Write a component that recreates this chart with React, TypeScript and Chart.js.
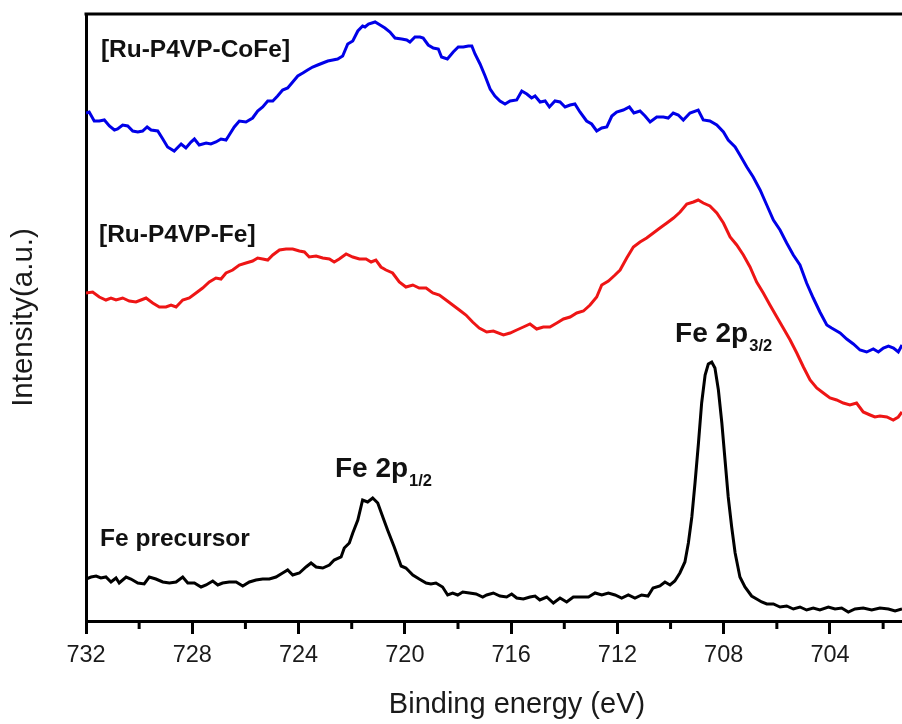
import React, { useEffect, useRef } from "react";
import { Chart, registerables } from "chart.js";

Chart.register(...registerables);

const FONT = '"Liberation Sans", Arial, Helvetica, sans-serif';

// Binding energy range (eV) and intensity range (a.u.)
const X_MIN = 701.29;
const X_MAX = 732;
const Y_MIN = 0;
const Y_MAX = 607;

const seriesNames = ["[Ru-P4VP-CoFe]", "[Ru-P4VP-Fe]", "Fe precursor"];
const xTitle = "Binding energy (eV)";
const yTitle = "Intensity(a.u.)";

// [binding energy (eV), intensity (a.u.)]
const coFeSpectrum: number[][] = [
  [732.0, 508], [731.88, 509], [731.69, 500], [731.5, 500], [731.31, 501], [731.12, 495], [730.93, 491], [730.81, 492],
  [730.62, 496], [730.43, 495], [730.24, 490], [730.05, 489], [729.87, 490], [729.7, 494], [729.55, 491], [729.3, 490],
  [729.11, 482], [728.93, 474], [728.68, 470], [728.42, 477], [728.24, 473], [728.05, 479], [727.92, 482], [727.74, 476],
  [727.48, 478], [727.3, 477], [727.11, 479], [726.92, 482], [726.73, 481], [726.61, 486], [726.42, 494], [726.23, 500],
  [725.98, 499], [725.73, 503], [725.54, 510], [725.35, 514], [725.16, 520], [724.97, 520], [724.79, 525], [724.6, 531],
  [724.41, 533], [724.22, 539], [724.03, 545], [723.84, 548], [723.66, 551], [723.47, 554], [723.28, 556], [723.09, 558],
  [722.9, 560], [722.71, 561], [722.53, 562], [722.34, 565], [722.15, 577], [721.96, 580], [721.77, 590], [721.59, 595],
  [721.5, 594], [721.37, 597], [721.12, 599], [720.93, 596], [720.75, 593], [720.56, 589], [720.37, 583], [720.12, 582],
  [719.93, 581], [719.81, 579], [719.62, 584], [719.43, 584], [719.31, 583], [719.12, 576], [718.93, 573], [718.74, 572],
  [718.62, 564], [718.4, 562], [718.18, 569], [717.99, 574], [717.8, 574], [717.61, 575], [717.48, 575], [717.36, 567],
  [717.17, 557], [716.98, 545], [716.79, 532], [716.61, 525], [716.42, 520], [716.23, 517], [716.04, 520], [715.79, 521],
  [715.6, 530], [715.41, 527], [715.23, 523], [715.1, 525], [714.91, 519], [714.72, 520], [714.56, 514], [714.35, 520],
  [714.16, 519], [713.97, 514], [713.78, 516], [713.6, 517], [713.41, 509], [713.16, 500], [712.97, 497], [712.78, 490],
  [712.59, 493], [712.4, 494], [712.21, 505], [712.03, 509], [711.78, 511], [711.55, 514], [711.38, 508], [711.15, 510],
  [710.96, 505], [710.77, 499], [710.52, 504], [710.27, 504], [710.09, 503], [709.9, 508], [709.71, 506], [709.52, 501],
  [709.27, 508], [708.96, 511], [708.77, 501], [708.52, 500], [708.26, 496], [708.01, 489], [707.83, 481], [707.57, 474],
  [707.39, 466], [707.13, 454], [706.89, 444], [706.63, 431], [706.38, 416], [706.13, 401], [705.88, 391], [705.63, 378],
  [705.38, 366], [705.13, 356], [704.88, 338], [704.63, 323], [704.38, 309], [704.12, 296], [703.94, 293], [703.62, 288],
  [703.37, 282], [703.12, 277], [702.87, 271], [702.62, 269], [702.37, 272], [702.18, 269], [701.99, 273], [701.8, 275],
  [701.61, 273], [701.43, 269], [701.29, 276],
];

const feSpectrum: number[][] = [
  [732.0, 328], [731.75, 329], [731.5, 324], [731.25, 321], [731.06, 323], [730.87, 321], [730.62, 323], [730.37, 320],
  [730.12, 319], [729.93, 321], [729.74, 323], [729.49, 318], [729.24, 314], [728.99, 314], [728.8, 316], [728.61, 314],
  [728.36, 321], [728.11, 323], [727.86, 328], [727.61, 333], [727.36, 339], [727.11, 343], [726.92, 342], [726.73, 348],
  [726.48, 351], [726.23, 356], [725.98, 358], [725.73, 360], [725.54, 363], [725.35, 362], [725.16, 361], [724.97, 366],
  [724.72, 371], [724.47, 372], [724.22, 372], [723.97, 370], [723.78, 369], [723.6, 364], [723.34, 365], [723.09, 363],
  [722.84, 362], [722.66, 359], [722.47, 362], [722.21, 367], [721.96, 364], [721.71, 362], [721.46, 362], [721.27, 359],
  [721.09, 361], [720.9, 354], [720.71, 351], [720.46, 348], [720.21, 339], [719.96, 334], [719.7, 336], [719.46, 333],
  [719.2, 333], [718.95, 328], [718.7, 326], [718.45, 321], [718.2, 316], [717.95, 311], [717.7, 306], [717.45, 299],
  [717.2, 293], [716.92, 289], [716.67, 290], [716.29, 286], [716.04, 288], [715.79, 291], [715.54, 294], [715.29, 297],
  [715.04, 292], [714.79, 294], [714.54, 294], [714.28, 298], [714.03, 302], [713.78, 304], [713.53, 308], [713.28, 310],
  [713.03, 316], [712.78, 324], [712.59, 336], [712.34, 340], [712.09, 346], [711.9, 351], [711.65, 363], [711.4, 374],
  [711.15, 379], [710.9, 383], [710.65, 388], [710.4, 393], [710.14, 398], [709.89, 403], [709.64, 409], [709.39, 417],
  [709.14, 419], [708.96, 421], [708.77, 418], [708.52, 415], [708.26, 408], [708.01, 398], [707.76, 384], [707.51, 376],
  [707.26, 366], [707.01, 354], [706.76, 339], [706.51, 328], [706.26, 316], [706.0, 304], [705.76, 293], [705.5, 281],
  [705.25, 268], [705.0, 254], [704.75, 241], [704.5, 233], [704.25, 228], [704.0, 223], [703.75, 221], [703.5, 218],
  [703.25, 216], [703.0, 218], [702.75, 209], [702.49, 206], [702.31, 204], [702.12, 205], [701.86, 204], [701.62, 201],
  [701.43, 204], [701.29, 209],
];

const precursorSpectrum: number[][] = [
  [732.0, 42], [731.81, 44], [731.62, 45], [731.44, 43], [731.25, 44], [731.06, 39], [730.87, 43], [730.75, 38],
  [730.49, 44], [730.31, 42], [730.05, 38], [729.81, 37], [729.62, 44], [729.37, 42], [729.11, 39], [728.86, 38],
  [728.61, 39], [728.36, 44], [728.17, 38], [727.92, 38], [727.67, 34], [727.48, 36], [727.23, 40], [727.04, 36],
  [726.86, 38], [726.61, 39], [726.35, 39], [726.1, 35], [725.85, 39], [725.6, 41], [725.35, 42], [725.1, 42],
  [724.85, 44], [724.6, 48], [724.41, 51], [724.22, 46], [723.97, 48], [723.72, 54], [723.53, 58], [723.34, 54],
  [723.09, 53], [722.84, 56], [722.66, 61], [722.4, 64], [722.28, 73], [722.09, 78], [721.96, 88], [721.77, 101],
  [721.59, 121], [721.4, 119], [721.21, 123], [721.02, 118], [720.83, 104], [720.65, 91], [720.4, 74], [720.14, 55],
  [719.96, 53], [719.7, 46], [719.46, 42], [719.2, 38], [719.02, 37], [718.83, 38], [718.58, 34], [718.39, 26],
  [718.2, 28], [718.01, 26], [717.82, 29], [717.57, 28], [717.32, 27], [717.07, 24], [716.92, 26], [716.67, 28],
  [716.42, 25], [716.17, 24], [715.98, 27], [715.79, 23], [715.54, 22], [715.29, 24], [715.1, 25], [714.92, 21],
  [714.66, 24], [714.41, 18], [714.16, 23], [713.91, 19], [713.66, 24], [713.41, 24], [713.09, 24], [712.84, 28],
  [712.59, 26], [712.34, 28], [712.09, 26], [711.84, 23], [711.59, 26], [711.34, 23], [711.09, 26], [710.85, 25],
  [710.66, 33], [710.4, 35], [710.21, 39], [710.02, 36], [709.84, 40], [709.65, 48], [709.46, 59], [709.33, 78],
  [709.2, 104], [709.08, 138], [708.95, 178], [708.83, 218], [708.7, 246], [708.58, 257], [708.45, 259], [708.33, 253],
  [708.2, 231], [708.07, 198], [707.95, 161], [707.83, 124], [707.7, 94], [707.57, 68], [707.39, 44], [707.2, 34],
  [706.95, 25], [706.76, 22], [706.57, 19], [706.38, 17], [706.13, 17], [705.88, 14], [705.63, 15], [705.38, 12],
  [705.13, 14], [704.88, 11], [704.63, 13], [704.38, 11], [704.06, 14], [703.81, 12], [703.56, 13], [703.31, 9],
  [703.06, 12], [702.75, 13], [702.43, 11], [702.12, 13], [701.8, 12], [701.55, 10], [701.29, 12],
];

const seriesColors = ["#0000e8", "#ee1515", "#000000"];

export default function App() {
  const ref = useRef<HTMLCanvasElement | null>(null);

  useEffect(() => {
    if (!ref.current) return;
    const toPts = (arr: number[][]) => arr.map(([x, y]) => ({ x, y }));

    const framePlugin = {
      id: "frame",
      afterDraw(chart: any) {
        const ctx = chart.ctx;
        const xs = chart.scales.x;
        const a = chart.chartArea;
        ctx.save();
        ctx.strokeStyle = "#000";
        ctx.lineWidth = 3;
        ctx.beginPath();
        ctx.moveTo(a.left - 1.5, a.top);
        ctx.lineTo(a.right, a.top);
        ctx.stroke();
        xs.ticks.forEach((t: any) => {
          if (Math.round(t.value) % 4 !== 0) {
            const px = xs.getPixelForValue(t.value);
            ctx.beginPath();
            ctx.moveTo(px, xs.top + 1.5);
            ctx.lineTo(px, xs.top + 8);
            ctx.stroke();
          }
        });
        // x-axis title (offset to the right, as in the original figure)
        ctx.fillStyle = "#1a1a1a";
        ctx.font = `29px ${FONT}`;
        ctx.textAlign = "center";
        ctx.textBaseline = "alphabetic";
        ctx.fillText(xTitle, a.left + 431, xs.top + 92);
        ctx.restore();
      },
    };

    const seriesLabels = [
      { text: seriesNames[0], e: 731.44, v: 564 },
      { text: seriesNames[1], e: 731.51, v: 379 },
      { text: seriesNames[2], e: 731.47, v: 75 },
    ];
    const peakLabels = [
      { main: "Fe 2p", sub: "1/2", e: 722.63, v: 144 },
      { main: "Fe 2p", sub: "3/2", e: 709.83, v: 279 },
    ];

    const labelPlugin = {
      id: "textLabels",
      afterDatasetsDraw(chart: any) {
        const ctx = chart.ctx;
        const xs = chart.scales.x;
        const ys = chart.scales.y;
        ctx.save();
        ctx.fillStyle = "#111";
        ctx.textBaseline = "alphabetic";
        ctx.textAlign = "left";
        ctx.font = `bold 24.5px ${FONT}`;
        seriesLabels.forEach((l) => {
          ctx.fillText(l.text, xs.getPixelForValue(l.e), ys.getPixelForValue(l.v));
        });
        peakLabels.forEach((l) => {
          const px = xs.getPixelForValue(l.e);
          const py = ys.getPixelForValue(l.v);
          ctx.font = `bold 28px ${FONT}`;
          ctx.fillText(l.main, px, py);
          const w = ctx.measureText(l.main).width;
          ctx.font = `bold 16.5px ${FONT}`;
          ctx.fillText(l.sub, px + w + 1, py + 8.5);
        });
        ctx.restore();
      },
    };

    const chart = new Chart(ref.current, {
      type: "line",
      data: {
        datasets: [coFeSpectrum, feSpectrum, precursorSpectrum].map((s, i) => ({
          label: seriesNames[i],
          data: toPts(s),
          borderColor: seriesColors[i],
          backgroundColor: seriesColors[i],
          borderWidth: 3,
          pointRadius: 0,
          tension: 0,
          fill: false,
        })),
      },
      options: {
        responsive: false,
        animation: false,
        events: [],
        layout: { padding: { top: 14, left: 0, right: 0, bottom: 0 } },
        plugins: { legend: { display: false }, tooltip: { enabled: false } },
        scales: {
          x: {
            type: "linear",
            reverse: true,
            min: X_MIN,
            max: X_MAX,
            afterFit: (s: any) => {
              s.height = 103;
            },
            border: { display: true, color: "#000", width: 3 },
            grid: {
              drawOnChartArea: false,
              drawTicks: true,
              tickLength: 13,
              tickWidth: 3,
              tickColor: (c: any) =>
                c.tick && Math.round(c.tick.value) % 4 === 0 ? "#000" : "rgba(0,0,0,0)",
            },
            ticks: {
              stepSize: 2,
              includeBounds: false,
              autoSkip: false,
              maxTicksLimit: 40,
              maxRotation: 0,
              padding: 7,
              color: "#1a1a1a",
              font: { family: FONT, size: 23.5 },
              callback: (v: any) => (Math.round(v) % 4 === 0 ? String(Math.round(v)) : ""),
            },
            title: { display: false },
          },
          y: {
            min: Y_MIN,
            max: Y_MAX,
            afterFit: (s: any) => {
              s.width = 86;
            },
            border: { display: true, color: "#000", width: 3 },
            grid: { display: true, drawOnChartArea: false, drawTicks: false },
            ticks: { display: false },
            title: {
              display: true,
              text: yTitle,
              color: "#1a1a1a",
              font: { family: FONT, size: 29.5 },
              padding: { top: 6, bottom: 0 },
            },
          },
        },
      } as any,
      plugins: [framePlugin, labelPlugin],
    });
    return () => chart.destroy();
  }, []);

  return (
    <div style={{ position: "absolute", left: 0, top: 0, width: 902, height: 724, background: "#fff" }}>
      <canvas ref={ref} width={902} height={724} style={{ display: "block" }} />
    </div>
  );
}
